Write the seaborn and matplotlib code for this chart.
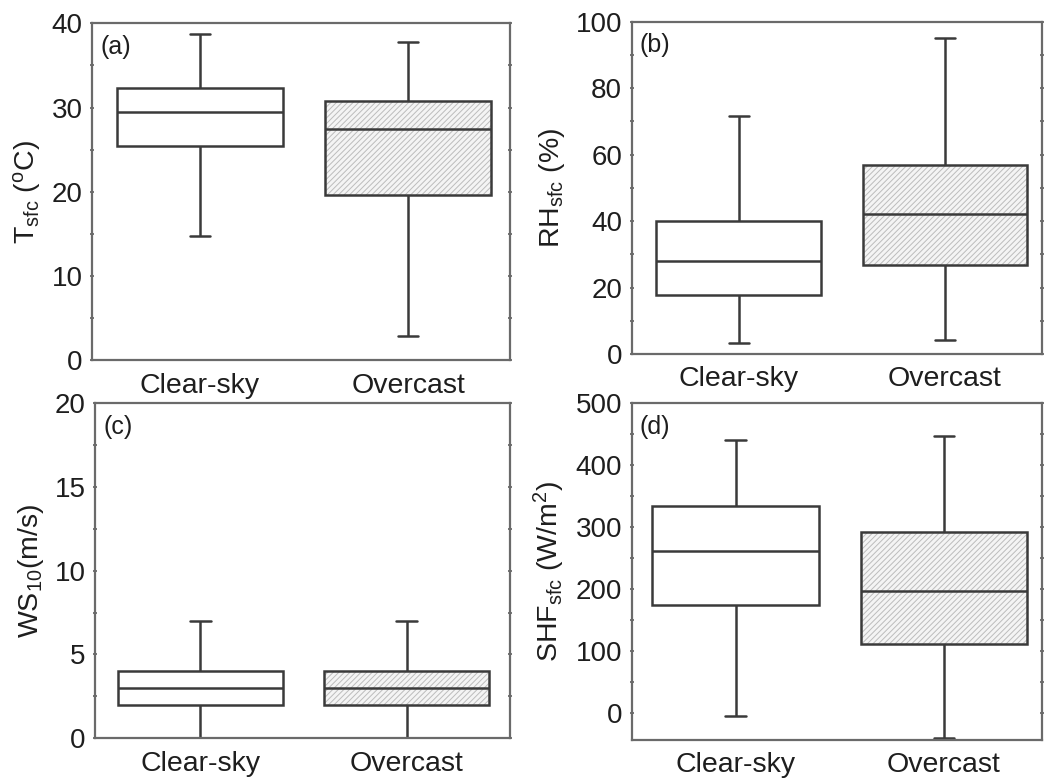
import numpy as np
import pandas as pd
import matplotlib
matplotlib.use("Agg")
import matplotlib.pyplot as plt
from matplotlib.ticker import MultipleLocator
import seaborn as sns

sns.set_theme(style="white")
plt.rcParams['font.family'] = ['Liberation Sans', 'DejaVu Sans']
plt.rcParams['mathtext.fontset'] = 'custom'
plt.rcParams['mathtext.rm'] = 'Liberation Sans'
plt.rcParams['mathtext.it'] = 'Liberation Sans'
plt.rcParams['hatch.linewidth'] = 0.7

conditions = ["Clear-sky", "Overcast"]
# five-number summaries: [min, Q1, median, Q3, max]
tsfc_clear = [14.8, 25.4, 29.5, 32.3, 38.75]
tsfc_over = [2.9, 19.6, 27.4, 30.8, 37.8]
rh_clear = [3.2, 17.8, 28.1, 40.1, 71.6]
rh_over = [4.2, 26.9, 42.0, 57.0, 95.1]
ws_clear = [0.0, 2.0, 3.0, 4.0, 7.0]
ws_over = [0.0, 2.0, 3.0, 4.0, 7.0]
shf_clear = [-5, 174, 262, 334, 441]
shf_over = [-40, 111, 197, 292, 447]

panels = [
    ("(a)", "T$_{\\mathregular{sfc}}$ ($^{\\mathregular{o}}$C)", tsfc_clear, tsfc_over, (0, 40), 10, 5,
     [0.088, 0.537, 0.4005, 0.433], (-0.52, 1.49)),
    ("(b)", "RH$_{\\mathregular{sfc}}$ (%)", rh_clear, rh_over, (0, 100), 20, 10,
     [0.605, 0.545, 0.393, 0.427], (-0.52, 1.47)),
    ("(c)", "WS$_{\\mathregular{10}}$(m/s)", ws_clear, ws_over, (0, 20), 5, 2.5,
     [0.091, 0.051, 0.3975, 0.431], (-0.51, 1.50)),
    ("(d)", "SHF$_{\\mathregular{sfc}}$ (W/m$^{\\mathregular{2}}$)", shf_clear, shf_over, (-43, 500), 100, 50,
     [0.605, 0.049, 0.393, 0.433], (-0.50, 1.47)),
]

fig = plt.figure(figsize=(10.44, 7.78), dpi=100)
line_c = "#3a3a3a"
spine_c = "#6a6a6a"
text_c = "#1e1e1e"

for label, ylabel, vc, vo, ylim, major, minor, rect, xlim in panels:
    ax = fig.add_axes(rect)
    df = pd.DataFrame({
        "condition": [conditions[0]] * len(vc) + [conditions[1]] * len(vo),
        "value": list(vc) + list(vo),
    })
    sns.boxplot(data=df, x="condition", y="value", order=conditions, ax=ax,
                color="white", saturation=1, linecolor=line_c, linewidth=1.8,
                width=0.8, whis=(0, 100), fliersize=0, capwidths=0.1)
    boxes = [p for p in ax.patches]
    if len(boxes) >= 2:
        b = boxes[1]
        b.set_facecolor("#f4f4f4")
        b.set_hatch("//////")
        try:
            b.set_hatchcolor("#bcbcbc")
        except Exception:
            b._hatch_color = matplotlib.colors.to_rgba("#bcbcbc")
    ax.set_ylim(*ylim)
    ax.set_xlim(*xlim)
    ax.yaxis.set_major_locator(MultipleLocator(major))
    ax.yaxis.set_minor_locator(MultipleLocator(minor))
    ax.tick_params(axis="y", which="both", direction="inout", left=True, right=True,
                   color=spine_c, width=1.3, labelsize=20, pad=5, labelcolor=text_c)
    ax.tick_params(axis="y", which="major", length=3.5)
    ax.tick_params(axis="y", which="minor", length=3)
    ax.tick_params(axis="x", bottom=False, labelsize=20.5, pad=3, labelcolor=text_c)
    ax.set_xlabel("")
    ax.set_ylabel(ylabel, fontsize=20.5, color=text_c, labelpad=6)
    for s in ax.spines.values():
        s.set_color(spine_c)
        s.set_linewidth(1.6)
    ax.text(0.02, 0.965, label, transform=ax.transAxes, fontsize=18,
            ha="left", va="top", color=text_c)

fig.savefig("out.png", dpi=100)
